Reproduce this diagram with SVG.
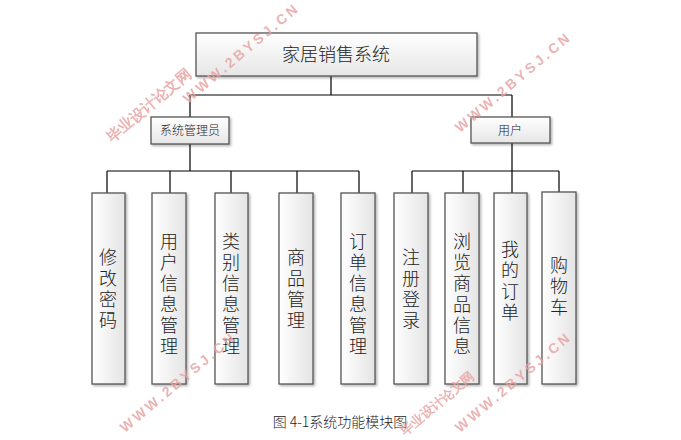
<svg xmlns="http://www.w3.org/2000/svg" width="681" height="440" viewBox="0 0 681 440">
<defs>
<linearGradient id="g" x1="0" y1="0" x2="0" y2="1"><stop offset="0" stop-color="#ffffff"/><stop offset="1" stop-color="#e6e6e6"/></linearGradient>
<linearGradient id="gh" x1="0" y1="0" x2="1" y2="0"><stop offset="0" stop-color="#ffffff"/><stop offset="1" stop-color="#e4e4e4"/></linearGradient>
<filter id="sh" x="-20%" y="-20%" width="140%" height="140%"><feDropShadow dx="1.5" dy="1.5" stdDeviation="1" flood-color="#000" flood-opacity="0.3"/></filter>
</defs>
<style>
.b{fill:url(#g);stroke:#555;stroke-width:1.3;filter:url(#sh)}
.v{fill:url(#gh);stroke:#555;stroke-width:1.3;filter:url(#sh)}
.t{font-family:"Noto Sans CJK SC","Liberation Sans",sans-serif;font-weight:300;fill:#222;text-anchor:middle}
.n{font-size:18px;writing-mode:vertical-rl;text-orientation:upright;letter-spacing:3px}
.c{fill:none;stroke:#000;stroke-width:1.2}
.w{font-family:"Liberation Sans",sans-serif;font-weight:bold;fill:#e8a0a0;opacity:0.8}
</style>
<rect width="681" height="440" fill="#fff"/>
<g id="connectors" class="c">
<path d="M331 76V95M190 95H512M190 95V117M512 95V117"/>
<path d="M190 144V171M107 171H359M107 171V193M170 171V193M231 171V193M297 171V193M359 171V193"/>
<path d="M512 143V171M412 171H559M412 171V193M463 171V193M512 171V193M559 171V192"/>
</g>
<g id="root"><rect class="b" x="196" y="33" width="281" height="43"/><text class="t" x="336" y="61" font-size="18">家居销售系统</text></g>
<g id="admin"><rect class="b" x="151" y="117" width="78" height="27"/><text class="t" x="190" y="135" font-size="12">系统管理员</text></g>
<g id="user"><rect class="b" x="471" y="117" width="79" height="26"/><text class="t" x="510" y="135" font-size="12">用户</text></g>
<g id="n1"><rect class="v" x="92" y="193" width="33" height="191"/><text class="t n" x="108" y="290">修改密码</text></g>
<g id="n2"><rect class="v" x="152" y="193" width="34" height="191"/><text class="t n" x="169" y="295">用户信息管理</text></g>
<g id="n3"><rect class="v" x="215" y="193" width="33" height="191"/><text class="t n" x="231" y="295">类别信息管理</text></g>
<g id="n4"><rect class="v" x="279" y="193" width="34" height="191"/><text class="t n" x="296" y="290">商品管理</text></g>
<g id="n5"><rect class="v" x="341" y="193" width="34" height="191"/><text class="t n" x="358" y="295">订单信息管理</text></g>
<g id="n6"><rect class="v" x="394" y="193" width="34" height="191"/><text class="t n" x="411" y="290">注册登录</text></g>
<g id="n7"><rect class="v" x="445" y="193" width="34" height="191"/><text class="t n" x="462" y="295">浏览商品信息</text></g>
<g id="n8"><rect class="v" x="494" y="193" width="33" height="191"/><text class="t n" x="510" y="282">我的订单</text></g>
<g id="n9"><rect class="v" x="542" y="192" width="34" height="192"/><text class="t n" x="559" y="288">购物车</text></g>
<text class="t" x="340" y="427" font-size="14">图 4-1系统功能模块图</text>
<g id="watermarks">
<text class="w" font-size="15" font-family="Noto Sans CJK SC,sans-serif" transform="translate(112,143) rotate(-40)">毕业设计论文网</text>
<text class="w" font-size="14" transform="translate(188,104) rotate(-40)" letter-spacing="3">WWW.2BYSJ.CN</text>
<text class="w" font-size="14" transform="translate(460,133) rotate(-40)" letter-spacing="3">WWW.2BYSJ.CN</text>
<text class="w" font-size="14" transform="translate(125,433) rotate(-40)" letter-spacing="3">WWW.2BYSJ.CN</text>
<text class="w" font-size="13" font-family="Noto Sans CJK SC,sans-serif" transform="translate(405,436) rotate(-40)">毕业设计论文网</text>
<text class="w" font-size="14" transform="translate(460,433) rotate(-40)" letter-spacing="3">WWW.2BYSJ.CN</text>
</g>
</svg>
